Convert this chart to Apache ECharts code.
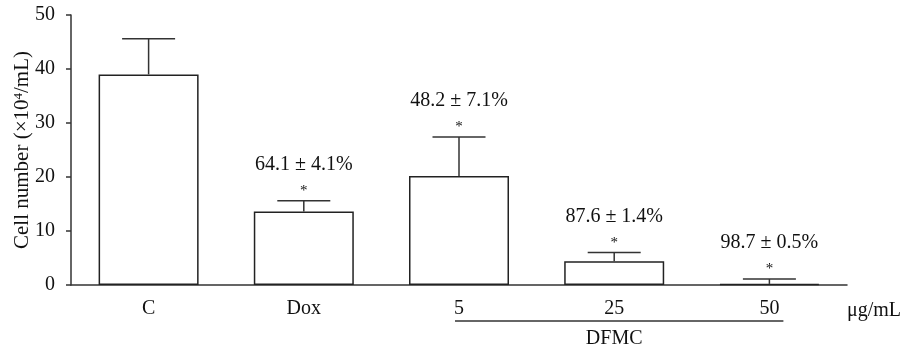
<!DOCTYPE html>
<html><head><meta charset="utf-8">
<script src="https://cdn.jsdelivr.net/npm/echarts@6/dist/echarts.min.js"></script>
<style>html,body{margin:0;padding:0;background:#fff}#c{width:905px;height:349px}</style>
</head><body><div id="c"></div>
<script>
var categories = ['C', 'Dox', '5', '25', '50'];
var means = [39.0, 13.6, 20.2, 4.4, 0.2];
var errors = [6.6, 2.0, 7.2, 1.6, 0.9];
var stars = ['', '*', '*', '*', '*'];
var annotations = ['', '64.1 ± 4.1%', '48.2 ± 7.1%', '87.6 ± 1.4%', '98.7 ± 0.5%'];
var yTicks = [0, 10, 20, 30, 40, 50];
var groupLabel = 'DFMC';
var groupRange = [2, 4];

var FONT = '"Liberation Serif", "Times New Roman", serif';
var FS = 20;
var chart = echarts.init(document.getElementById('c'), null, {renderer: 'canvas'});

var errData = means.map(function (m, i) { return [i, m, m + errors[i]]; });

chart.setOption({
  animation: false,
  backgroundColor: '#fff',
  grid: {left: 71, right: 58, top: 15, bottom: 64, containLabel: false, outerBoundsMode: 'none'},
  xAxis: {
    type: 'category', data: categories, boundaryGap: true,
    axisLine: {lineStyle: {color: '#333', width: 1.5}},
    axisTick: {alignWithLabel: true, length: 5, lineStyle: {color: '#333', width: 1.5}},
    axisLabel: {fontFamily: FONT, fontSize: FS, color: '#111', margin: 14},
    name: 'μg/mL', nameLocation: 'end', nameGap: 0, nameMoveOverlap: false,
    nameTextStyle: {fontFamily: FONT, fontSize: FS, color: '#111', align: 'left', verticalAlign: 'top', padding: [16, 0, 0, 0]}
  },
  yAxis: {
    type: 'value', min: yTicks[0], max: yTicks[yTicks.length - 1], interval: yTicks[1] - yTicks[0],
    splitLine: {show: false},
    axisLine: {show: true, lineStyle: {color: '#333', width: 1.5}},
    axisTick: {show: true, length: 5, lineStyle: {color: '#333', width: 1.5}},
    axisLabel: {fontFamily: FONT, fontSize: FS, color: '#111', margin: 16},
    name: 'Cell number (×10{sup|4}/mL)', nameLocation: 'middle', nameGap: 38, nameRotate: 90, nameMoveOverlap: false,
    nameTextStyle: {fontFamily: FONT, fontSize: 21, color: '#111',
      rich: {sup: {fontFamily: FONT, fontSize: 13, color: '#111', verticalAlign: 'top', padding: [0, 0, 8, 0]}}}
  },
  series: [
    {
      type: 'bar', data: means, barWidth: 100,
      itemStyle: {color: '#fff', borderColor: '#222', borderWidth: 1.5},
      z: 2
    },
    {
      type: 'custom', data: errData, clip: false, z: 3,
      encode: {x: 0, y: [1, 2]},
      renderItem: function (params, api) {
        var i = api.value(0);
        var p0 = api.coord([i, api.value(1)]);
        var p1 = api.coord([i, api.value(2)]);
        var half = 26.5;
        var style = {stroke: '#333', lineWidth: 1.5};
        var children = [
          {type: 'line', shape: {x1: p0[0], y1: p0[1], x2: p1[0], y2: p1[1]}, style: style},
          {type: 'line', shape: {x1: p1[0] - half, y1: p1[1], x2: p1[0] + half, y2: p1[1]}, style: style}
        ];
        if (stars[i]) {
          children.push({type: 'text', style: {text: stars[i], x: p1[0], y: p1[1] - 10, align: 'center', verticalAlign: 'middle', font: '15px ' + FONT, fill: '#111'}});
        }
        if (annotations[i]) {
          children.push({type: 'text', style: {text: annotations[i], x: p1[0], y: p1[1] - 36, align: 'center', verticalAlign: 'middle', font: FS + 'px ' + FONT, fill: '#111'}});
        }
        return {type: 'group', children: children};
      }
    },
    {
      type: 'custom', data: [[groupRange[0], groupRange[1]]], clip: false, z: 3,
      encode: {x: [0, 1]},
      renderItem: function (params, api) {
        var a = api.coord([api.value(0), 0]);
        var b = api.coord([api.value(1), 0]);
        var y = a[1] + 36;
        var mid = api.coord([(api.value(0) + api.value(1)) / 2, 0]);
        return {type: 'group', children: [
          {type: 'line', shape: {x1: a[0] - 4, y1: y, x2: b[0] + 14, y2: y}, style: {stroke: '#333', lineWidth: 1.5}},
          {type: 'text', style: {text: groupLabel, x: mid[0], y: y + 18, align: 'center', verticalAlign: 'middle', font: FS + 'px ' + FONT, fill: '#111'}}
        ]};
      }
    }
  ]
});
</script></body></html>
